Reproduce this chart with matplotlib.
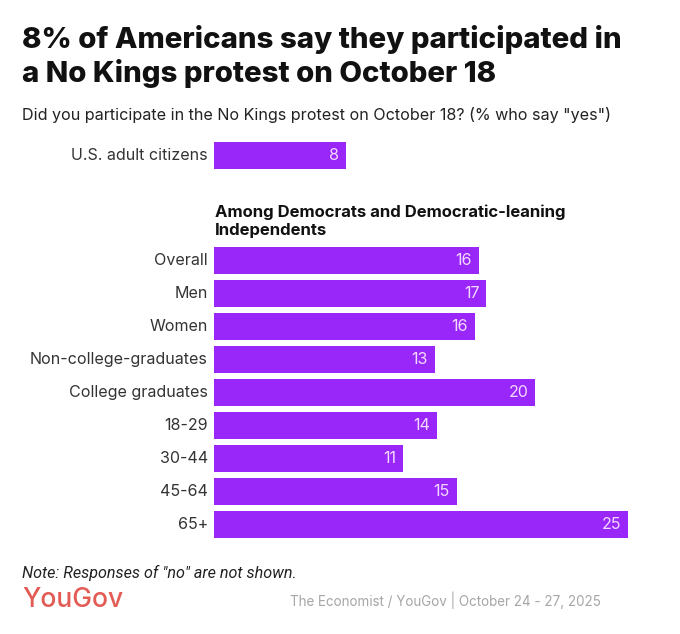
import matplotlib
matplotlib.use('Agg')
import matplotlib.pyplot as plt

W, H = 680, 634

top_label = ['U.S. adult citizens']
top_value = [8.05]
top_text = ['8']
categories = ['Overall', 'Men', 'Women', 'Non-college-graduates', 'College graduates',
              '18-29', '30-44', '45-64', '65+']
# bar lengths are unrounded shares, labels are the rounded numbers printed on them
values = [16.15, 16.6, 15.9, 13.45, 19.6, 13.6, 11.5, 14.8, 25.25]
value_labels = ['16', '17', '16', '13', '20', '14', '11', '15', '25']

purple = '#9a27fa'
plt.rcParams['font.family'] = ['Inter', 'Open Sans', 'DejaVu Sans']

fig = plt.figure(figsize=(W / 100, H / 100), dpi=100)
fig.patch.set_facecolor('white')

# axes covers the whole picture, x scale is 16.4 px per percent starting at 214px
ax = fig.add_axes([0, 0, 1, 1])
px_per_unit = 16.4
ax.set_xlim(-214 / px_per_unit, (W - 214) / px_per_unit)
ax.set_ylim(H, 0)
ax.axis('off')

ax.barh([155.7], top_value, height=27.5, color=purple)
ax.text(-0.38, 155.7, top_label[0], ha='right', va='center', fontsize=11.55, color='#333333')
ax.text(top_value[0] - 0.41, 155.7, top_text[0], ha='right', va='center', fontsize=11.55, color='#f3d9ff')

ypos = [260.3 + i * 33.0 for i in range(len(categories))]
ax.barh(ypos, values, height=27.5, color=purple)
for y, c, v, t in zip(ypos, categories, values, value_labels):
    ax.text(-0.38, y, c, ha='right', va='center', fontsize=11.55, color='#333333')
    ax.text(v - 0.41, y, t, ha='right', va='center', fontsize=11.55, color='#f3d9ff')

fig.text(22 / W, 1 - 40 / H, '8% of Americans say they participated in', fontsize=21.2, fontweight=800, va='center', color='#111111')
fig.text(22 / W, 1 - 74 / H, 'a No Kings protest on October 18', fontsize=21.2, fontweight=800, va='center', color='#111111')
fig.text(22 / W, 1 - 115 / H, 'Did you participate in the No Kings protest on October 18? (% who say "yes")', fontsize=11.6, va='center', color='#222222')
fig.text(215 / W, 1 - 212.5 / H, 'Among Democrats and Democratic-leaning', fontsize=12, fontweight='bold', va='center', color='#111111')
fig.text(215 / W, 1 - 230 / H, 'Independents', fontsize=12, fontweight='bold', va='center', color='#111111')
fig.text(22 / W, 1 - 573 / H, 'Note: Responses of "no" are not shown.', fontsize=11.6, style='italic', family=['Roboto', 'DejaVu Sans'], va='center', color='#222222')
fig.text(22 / W, 1 - 600 / H, 'YouGov', fontsize=19, va='center', color='#e25b55', family=['Inter', 'DejaVu Sans'], fontweight='medium')
fig.text(601 / W, 1 - 600 / H, 'The Economist / YouGov | October 24 - 27, 2025', fontsize=9.7, ha='right', va='center', color='#a6a6a6')

fig.savefig('out.png', dpi=100)
